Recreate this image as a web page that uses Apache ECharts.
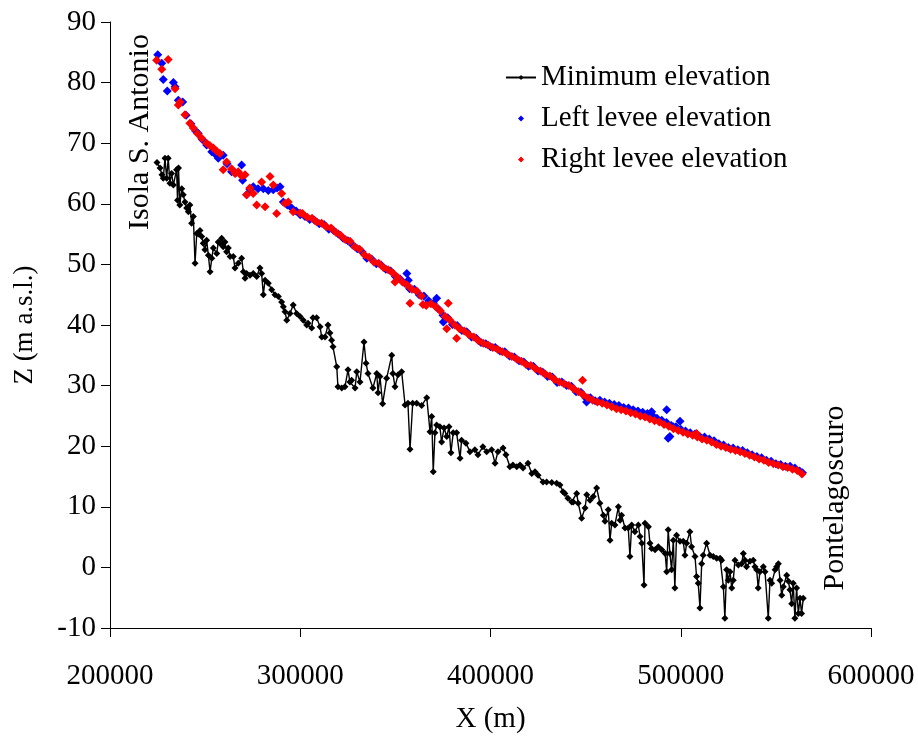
<!DOCTYPE html>
<html>
<head>
<meta charset="utf-8">
<script src="https://cdn.jsdelivr.net/npm/echarts@6/dist/echarts.min.js"></script>
<style>
html,body{margin:0;padding:0;background:#fff;}
#chart{width:918px;height:739px;}
</style>
</head>
<body>
<div id="chart"></div>
<script>
// ---- Data (X in m, Z in m a.s.l.) ----
const xTicks = [200000, 300000, 400000, 500000, 600000];
const yTicks = [-10, 0, 10, 20, 30, 40, 50, 60, 70, 80, 90];
const seriesNames = ['Minimum elevation', 'Left levee elevation', 'Right levee elevation'];

const minElevation = [
[224700,66.8],[226300,65.9],[227300,64.8],[228000,64.2],[228900,67.5],[229800,64.2],[230600,67.5],[231500,63.4],[232400,65],[233300,63.1],
[235000,65.6],[235500,60.6],[236000,65.9],[236700,59.8],[237700,62.5],[238500,61.5],[239400,60.3],[240300,59.3],[241200,58.7],[242000,59.8],
[242900,56.8],[243800,57.9],[244700,50.2],[245600,55.1],[246400,55],[247300,55.6],[248200,54.6],[249000,53.5],[249900,52.4],[250800,54],
[251700,51.5],[252600,48.8],[253500,51],[254300,52.7],[256100,51.8],[256900,53.7],[257800,53.5],[258700,54.3],[259500,52.9],[260400,53.7],
[261300,52.1],[262200,52.7],[263100,51.3],[264800,51.3],[265700,49.4],[267400,50.2],[269200,51],[270100,48.8],[271000,47.7],[271800,48.5],
[273600,48.2],[275300,48.5],[277100,48],[278800,49.4],[279700,48.5],[280600,45],[281500,47.4],[283200,46.9],[285000,45.8],[286700,45],
[288500,44.7],[290200,43.8],[291100,43],[292000,42.2],[292900,40.8],[294600,41.9],[296300,43.3],[298100,41.9],[299900,41.4],[301600,40.8],
[303400,40],[304100,40.3],[306000,39.5],[306700,41.2],[308600,41.2],[310400,39.7],[311300,38],[313000,38],[314600,40],[315600,38.7],
[316500,37.5],[317200,36.4],[319200,33.1],[319800,29.8],[321800,29.6],[323500,29.8],[325100,32.6],[326100,30.6],[327000,30.9],[328800,29.6],
[329700,32.3],[331400,30.6],[333500,37.2],[334600,33.7],[335600,32],[338200,29.6],[340200,32],[340900,28.8],[341900,31.5],[343300,27],
[345400,31.2],[348100,35],[348700,32],[349800,29.8],[351400,31.8],[353300,32.3],[355100,26.8],[356600,27.1],[357700,19.5],[359100,27.1],
[361200,27.1],[363800,26.7],[366500,28],[368200,22.4],[369100,24.9],[369900,15.8],[370800,22.2],[371700,23.5],[373400,23.2],[374300,20.7],
[375600,23],[377000,21.6],[378200,23.2],[379200,18.9],[380400,22.2],[382200,22.2],[384000,18],[384800,21],[387100,20.5],[389200,19.1],
[391800,19.4],[393400,18.6],[396000,19.9],[398000,19.1],[400600,19.4],[402400,17.2],[403900,19.1],[406600,19.7],[408100,18.6],[410200,16.6],
[411800,16.9],[413800,16.6],[415500,16.9],[417100,16.4],[419700,17.2],[421700,15.5],[423400,15.8],[425000,15.2],[427600,14.1],[429500,14.1],
[432200,14],[434800,13.9],[436500,13.6],[438100,12.5],[439100,12.2],[440700,11.4],[442700,10.8],[443500,10.8],[445300,12.2],[446100,10.6],
[447900,8.1],[449700,9.8],[450600,12],[452300,11.1],[454000,11.7],[455800,13.1],[457500,10.6],[459300,8.6],[460200,7.6],[461900,9.5],
[462800,4.5],[463700,7.3],[465400,7],[467200,10],[468100,7.8],[468900,8.6],[470700,6.5],[472400,6.5],[473300,1.8],[474200,7],
[475900,5.9],[477700,7],[478600,5.1],[479500,4],[480700,-2.9],[481200,7.3],[483000,6.7],[483800,4],[484700,3.1],[486500,2.9],
[488200,3.4],[490000,2.9],[491800,2.3],[492600,-0.7],[493400,6.2],[494300,2.3],[495200,-0.4],[496100,4.5],[496900,-3.4],[497800,5.3],
[499600,4.3],[501300,4.3],[502200,2],[503100,4],[504800,5.9],[505700,3.4],[507500,1.8],[508300,-1.5],[509200,-2.6],[510100,-6.7],
[511000,0.6],[511800,2],[513600,4],[515400,2],[517100,1.8],[518900,1.5],[520700,1.5],[521500,1.2],[522400,-3.2],[523200,-8.4],
[524100,-0.4],[525000,-2.1],[525900,-0.7],[526800,-3.4],[527600,-2.1],[528500,1.2],[530300,0.4],[532000,0.6],[532900,2.3],[533800,1.2],
[534600,0.1],[536400,1],[538100,1.2],[539000,0.1],[539900,-0.4],[540700,-3.4],[541600,-0.7],[543400,0.1],[544300,-0.7],[546000,-8.4],
[546900,-2.1],[547800,-2.6],[549600,-0.4],[550400,0.1],[551300,0.6],[552200,-2.1],[553100,-4.6],[553900,-3.2],[555700,-1.3],[556600,-2.3],
[557400,-3.7],[558300,-6],[559100,-2.6],[560000,-8.4],[560900,-3.4],[561800,-7.6],[562700,-5.1],[563500,-7.6],[564400,-5.1]
];

const leftLevee = [
[225100,84.6],[227200,83.2],[228000,80.5],[230100,78.6],[233300,80],[234200,79.3],[235900,77.1],[238200,76.8],[240000,74.6],[242500,73.2],
[245000,72],[246400,71.6],[248500,70.6],[250800,69.7],[253500,68.6],[255200,68.2],[256900,67.5],[259500,68],[261500,66.6],[263900,65.3],
[266000,65.1],[269200,66.4],[269700,63.9],[271800,61.5],[273500,62.4],[275300,62.8],[277800,62.5],[280600,62.5],[283200,62.2],[285800,62.3],
[287800,62.6],[289400,62.8],[291100,60.3],[293200,59.8],[295500,59.3],[297800,58.8],
[300000,58.2],[302500,57.9],[305000,57.4],[307500,57.3],[310000,56.7],[312500,56.6],[315000,55.8],[317500,55.6],[320000,55.0],[322500,54.3],
[325000,53.9],[327500,53.2],[330000,52.6],[332500,52.1],[335000,51.0],[337500,50.9],[340000,50.1],[342500,49.9],[345000,49.2],[347500,48.9],
[350000,48.0],[352500,47.6],[355000,46.9],[356000,48.5],[356800,47.4],[357500,46.0],[360000,45.9],[362500,45.0],[365000,44.8],[367500,44.0],
[370000,43.6],[371700,44.4],[372500,42.7],[375000,41.6],[375200,40.5],[377500,41.2],[380000,40.1],[382500,39.9],[385000,39.1],[387500,38.9],
[390000,38.0],[392500,37.8],[395000,37.1],[397500,36.9],[400000,36.4],[402500,36.3],[405000,35.7],[407500,35.6],[410000,34.9],[412500,34.7],
[415000,34.1],[417500,33.9],[420000,33.2],[422500,33.2],[425000,32.4],[427500,32.2],[430000,31.5],[432500,31.4],[435000,30.5],[437500,30.6],
[440000,30.0],[442500,29.9],[445000,29.0],[447500,28.9],[450000,28.0],[450500,27.3],[452500,28.0],[455000,27.5],[457500,27.6],[460000,27.3],
[462500,27.1],[465000,26.9],[467500,26.7],[470000,26.4],[472500,26.3],[475000,26.0],[477500,25.8],[480000,25.6],[482500,25.4],[484700,25.7],
[485000,25.1],[487500,24.6],[490000,24.3],[492600,26],[492500,23.9],[493400,21.3],[494300,21.6],[495000,23.4],[496100,23.2],[497500,23.2],
[499600,24.1],[500000,22.8],[502500,22.5],[505000,22.2],[507500,22.0],[510000,21.6],[512500,21.5],[515000,21.2],[517500,20.9],[520000,20.4],
[522500,20.2],[525000,19.8],[527500,19.7],[530000,19.4],[532500,19.3],[535000,18.9],[537500,18.6],[540000,18.3],[542500,18.1],[545000,17.7],
[547500,17.5],[550000,17.1],[552500,17.0],[555000,16.7],[557500,16.7],[560000,16.4],[562500,15.9],[564000,15.6]
];

const rightLevee = [
[224500,83.7],[227200,82.2],[230600,83.8],[234200,79],[235900,76.3],[236800,76.8],[239400,74.7],[242000,73.3],[243800,72.5],[246000,71.6],
[248200,70.8],[250800,70],[252500,69.6],[254300,69.2],[256000,68.7],[257800,68.3],[259500,65.6],[261300,66.9],[263900,65.8],[265700,65],
[267400,65.3],[269200,64.6],[271000,64.8],[271800,61.5],[273500,62.6],[275300,61.7],[277100,59.8],[279700,63.6],[281500,59.5],[284100,64.5],
[285800,63.1],[287600,58.4],[290200,61.7],[292000,60.1],[293700,60.3],[296300,58.7],[299900,58.5],
[301200,58.4],[303700,57.8],[306200,57.6],[308700,57.0],[311200,56.8],[313700,56.2],[316200,56.0],[318700,55.3],[321200,54.8],[323700,54.1],
[326200,53.8],[328700,52.9],[331200,52.5],[333700,51.6],[336200,51.2],[338700,50.4],[341200,50.2],[343700,49.5],[346200,49.1],[348700,48.6],
[349800,47.1],[351200,47.9],[353700,47.1],[356200,46.6],[357700,43.6],[358700,45.9],[361200,45.6],[363700,44.8],[364500,43.4],[366200,43.2],
[368700,43.5],[371200,43.0],[373700,42.3],[376200,41.4],[377000,39.4],[377800,43.6],[378700,40.8],[381200,40.0],[382200,37.8],[383700,39.4],
[386200,39.0],[388700,38.4],[391200,38.0],[393700,37.4],[396200,37.0],[398700,36.7],[401200,36.3],[403700,36.0],[406200,35.6],[408700,35.2],
[411200,34.8],[413700,34.4],[416200,34.0],[418700,33.5],[421200,33.3],[423700,32.8],[426200,32.4],[428700,31.9],[431200,31.6],[433700,31.0],
[436200,30.6],[438700,30.3],[441200,30.0],[443700,29.5],[446200,29.0],[448400,30.9],[448700,28.5],[451200,28.0],[453700,27.6],[456200,27.3],
[458700,27.1],[461200,26.8],[463700,26.5],[466200,26.2],[468700,26.0],[471200,25.8],[473700,25.5],[476200,25.3],[478700,25.0],[481200,24.8],
[483700,24.5],[486200,24.2],[488700,24.0],[491200,23.6],[493700,23.3],[496200,22.9],[498700,22.6],[501200,22.3],[503700,22.0],[506200,21.8],
[508300,22.1],[508700,21.5],[511200,21.2],[513700,21.0],[516200,20.7],[518700,20.3],[521200,20.0],[523700,19.8],[526200,19.5],[528700,19.3],
[531200,19.1],[533700,18.8],[536200,18.5],[538700,18.2],[541200,17.9],[543700,17.7],[546200,17.3],[548700,17.1],[551200,16.9],[553700,16.6],
[556200,16.5],[558700,16.2],[561200,16.0],[563700,15.4]
];

const FONT = 'Liberation Serif';
const DOT_ICON = 'path://M0,3L0,3Z M12,3L15,0L18,3L15,6Z M30,3L30,3Z';
const chart = echarts.init(document.getElementById('chart'));
chart.setOption({
  backgroundColor: '#ffffff',
  animation: false,
  textStyle: { fontFamily: FONT, color: '#000' },
  grid: { left: 110, right: 47, top: 22, bottom: 111, containLabel: false },
  legend: {
    orient: 'vertical',
    left: 500, top: 58,
    itemWidth: 30, itemHeight: 6, itemGap: 12,
    symbolKeepAspect: false,
    textStyle: { fontFamily: FONT, fontSize: 29, color: '#000' },
    data: [
      { name: seriesNames[0] },
      { name: seriesNames[1], icon: DOT_ICON },
      { name: seriesNames[2], icon: DOT_ICON }
    ]
  },
  xAxis: {
    type: 'value', min: xTicks[0], max: xTicks[xTicks.length - 1], interval: 100000,
    name: 'X (m)', nameLocation: 'middle', nameGap: 77,
    nameTextStyle: { fontFamily: FONT, fontSize: 29, color: '#000' },
    axisLine: { show: true, onZero: false, lineStyle: { color: '#000', width: 1 } },
    axisTick: { show: true, inside: false, length: 9, lineStyle: { color: '#000' } },
    axisLabel: { fontFamily: FONT, fontSize: 29, color: '#000', margin: 34,
      formatter: function (v) { return String(v); } },
    splitLine: { show: false }
  },
  yAxis: {
    type: 'value', min: yTicks[0], max: yTicks[yTicks.length - 1], interval: 10,
    name: 'Z (m a.s.l.)', nameLocation: 'middle', nameGap: 72,
    nameTextStyle: { fontFamily: FONT, fontSize: 27, color: '#000' },
    axisLine: { show: true, onZero: false, lineStyle: { color: '#000', width: 1 } },
    axisTick: { show: true, inside: false, length: 9, lineStyle: { color: '#000' } },
    axisLabel: { fontFamily: FONT, fontSize: 29, color: '#000', margin: 14 },
    splitLine: { show: false }
  },
  graphic: [
    { type: 'text', x: 140, y: 132, rotation: Math.PI / 2,
      style: { text: 'Isola S. Antonio', font: '30px "Liberation Serif"', fill: '#000', align: 'center', verticalAlign: 'middle' } },
    { type: 'text', x: 835, y: 498, rotation: Math.PI / 2,
      style: { text: 'Pontelagoscuro', font: '30px "Liberation Serif"', fill: '#000', align: 'center', verticalAlign: 'middle' } }
  ],
  series: [
    { name: seriesNames[0], type: 'line', data: minElevation,
      symbol: 'diamond', symbolSize: 7, showAllSymbol: true,
      lineStyle: { color: '#000', width: 1.4 }, itemStyle: { color: '#000' } },
    { name: seriesNames[1], type: 'scatter', data: leftLevee,
      symbol: 'diamond', symbolSize: 9, itemStyle: { color: '#0000ff', opacity: 1 } },
    { name: seriesNames[2], type: 'scatter', data: rightLevee,
      symbol: 'diamond', symbolSize: 9, itemStyle: { color: '#ff0000', opacity: 1 } }
  ]
});
</script>
</body>
</html>
